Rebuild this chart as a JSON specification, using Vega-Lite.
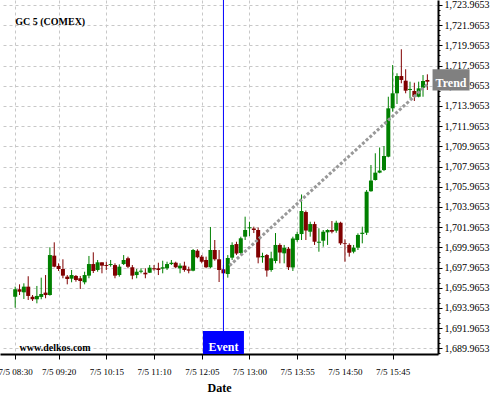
{
  "$schema": "https://vega.github.io/schema/vega-lite/v6.json",
  "width": 438,
  "height": 354,
  "autosize": {"type": "none"},
  "padding": {"left": 0, "top": 0, "right": 62, "bottom": 46},
  "background": "white",
  "config": {
    "view": {"stroke": null},
    "font": "Liberation Serif",
    "text": {"font": "Liberation Serif"},
    "axis": {"labelFont": "Liberation Serif", "titleFont": "Liberation Serif", "labelColor": "#000000", "tickColor": "#000000", "domainColor": "#000000", "domainWidth": 2, "gridColor": "#c8c8c8", "gridDash": [3, 3], "gridWidth": 1, "titleColor": "#000000", "labelOverlap": false, "labelFlush": false, "labelBound": false},
    "axisX": {"labelFontSize": 9, "tickSize": 5, "labelPadding": 8, "titleFontSize": 12, "titleFontWeight": "bold", "titlePadding": 6},
    "axisY": {"labelFontSize": 10, "tickSize": 4, "labelPadding": 2}
  },
  "resolve": {"axis": {"y": "independent"}},
  "datasets": {
    "candles": [
      {"t": "2024-07-05T08:30:00", "o": 1695.08, "h": 1696.07, "l": 1693.99, "c": 1695.81},
      {"t": "2024-07-05T08:35:00", "o": 1695.81, "h": 1696.30, "l": 1695.24, "c": 1695.57},
      {"t": "2024-07-05T08:40:00", "o": 1695.51, "h": 1696.40, "l": 1694.85, "c": 1696.07},
      {"t": "2024-07-05T08:45:00", "o": 1696.07, "h": 1697.10, "l": 1694.75, "c": 1695.15},
      {"t": "2024-07-05T08:50:00", "o": 1695.08, "h": 1695.24, "l": 1694.65, "c": 1694.82},
      {"t": "2024-07-05T08:55:00", "o": 1694.82, "h": 1696.14, "l": 1694.42, "c": 1695.15},
      {"t": "2024-07-05T09:00:00", "o": 1695.05, "h": 1696.96, "l": 1694.82, "c": 1695.34},
      {"t": "2024-07-05T09:05:00", "o": 1695.48, "h": 1697.22, "l": 1694.92, "c": 1695.24},
      {"t": "2024-07-05T09:10:00", "o": 1695.24, "h": 1699.97, "l": 1695.18, "c": 1699.20},
      {"t": "2024-07-05T09:15:00", "o": 1699.14, "h": 1700.46, "l": 1697.99, "c": 1698.05},
      {"t": "2024-07-05T09:20:00", "o": 1698.12, "h": 1698.38, "l": 1697.62, "c": 1697.82},
      {"t": "2024-07-05T09:25:00", "o": 1697.82, "h": 1698.78, "l": 1696.90, "c": 1697.16},
      {"t": "2024-07-05T09:30:00", "o": 1697.06, "h": 1697.22, "l": 1696.30, "c": 1696.83},
      {"t": "2024-07-05T09:35:00", "o": 1696.86, "h": 1697.72, "l": 1696.50, "c": 1697.22},
      {"t": "2024-07-05T09:40:00", "o": 1697.13, "h": 1697.22, "l": 1696.56, "c": 1696.73},
      {"t": "2024-07-05T09:45:00", "o": 1696.90, "h": 1697.13, "l": 1695.84, "c": 1696.63},
      {"t": "2024-07-05T09:50:00", "o": 1696.50, "h": 1697.55, "l": 1696.30, "c": 1697.22},
      {"t": "2024-07-05T09:55:00", "o": 1697.16, "h": 1699.11, "l": 1696.90, "c": 1698.31},
      {"t": "2024-07-05T10:00:00", "o": 1698.31, "h": 1699.47, "l": 1697.42, "c": 1697.62},
      {"t": "2024-07-05T10:05:00", "o": 1697.72, "h": 1698.71, "l": 1697.55, "c": 1698.48},
      {"t": "2024-07-05T10:10:00", "o": 1698.48, "h": 1698.48, "l": 1697.39, "c": 1698.15},
      {"t": "2024-07-05T10:15:00", "o": 1698.21, "h": 1698.54, "l": 1697.72, "c": 1698.12},
      {"t": "2024-07-05T10:20:00", "o": 1698.21, "h": 1698.71, "l": 1698.05, "c": 1698.31},
      {"t": "2024-07-05T10:25:00", "o": 1698.21, "h": 1698.38, "l": 1696.90, "c": 1697.16},
      {"t": "2024-07-05T10:30:00", "o": 1697.22, "h": 1698.28, "l": 1697.06, "c": 1698.05},
      {"t": "2024-07-05T10:35:00", "o": 1698.31, "h": 1699.20, "l": 1698.21, "c": 1698.71},
      {"t": "2024-07-05T10:40:00", "o": 1698.88, "h": 1699.04, "l": 1697.89, "c": 1698.05},
      {"t": "2024-07-05T10:45:00", "o": 1697.99, "h": 1698.21, "l": 1696.80, "c": 1697.16},
      {"t": "2024-07-05T10:50:00", "o": 1697.22, "h": 1697.82, "l": 1696.90, "c": 1697.55},
      {"t": "2024-07-05T10:55:00", "o": 1697.55, "h": 1697.89, "l": 1697.39, "c": 1697.65},
      {"t": "2024-07-05T11:00:00", "o": 1697.45, "h": 1697.89, "l": 1696.90, "c": 1697.29},
      {"t": "2024-07-05T11:05:00", "o": 1697.45, "h": 1698.21, "l": 1697.42, "c": 1697.95},
      {"t": "2024-07-05T11:10:00", "o": 1697.89, "h": 1698.21, "l": 1697.65, "c": 1697.79},
      {"t": "2024-07-05T11:15:00", "o": 1697.89, "h": 1698.44, "l": 1697.22, "c": 1697.72},
      {"t": "2024-07-05T11:20:00", "o": 1697.85, "h": 1698.64, "l": 1697.39, "c": 1697.99},
      {"t": "2024-07-05T11:25:00", "o": 1697.89, "h": 1698.54, "l": 1697.72, "c": 1698.31},
      {"t": "2024-07-05T11:30:00", "o": 1698.31, "h": 1698.71, "l": 1698.21, "c": 1698.44},
      {"t": "2024-07-05T11:35:00", "o": 1698.44, "h": 1698.54, "l": 1697.89, "c": 1697.99},
      {"t": "2024-07-05T11:40:00", "o": 1697.89, "h": 1698.38, "l": 1697.39, "c": 1698.15},
      {"t": "2024-07-05T11:45:00", "o": 1698.15, "h": 1698.54, "l": 1697.55, "c": 1697.72},
      {"t": "2024-07-05T11:50:00", "o": 1697.79, "h": 1698.05, "l": 1697.39, "c": 1697.65},
      {"t": "2024-07-05T11:55:00", "o": 1697.65, "h": 1699.80, "l": 1697.59, "c": 1699.70},
      {"t": "2024-07-05T12:00:00", "o": 1699.63, "h": 1699.77, "l": 1698.88, "c": 1698.98},
      {"t": "2024-07-05T12:05:00", "o": 1699.04, "h": 1699.20, "l": 1698.38, "c": 1698.54},
      {"t": "2024-07-05T12:10:00", "o": 1698.71, "h": 1699.04, "l": 1697.89, "c": 1697.99},
      {"t": "2024-07-05T12:15:00", "o": 1697.99, "h": 1701.98, "l": 1697.89, "c": 1699.70},
      {"t": "2024-07-05T12:20:00", "o": 1699.70, "h": 1700.69, "l": 1698.64, "c": 1698.78},
      {"t": "2024-07-05T12:25:00", "o": 1698.78, "h": 1699.70, "l": 1696.53, "c": 1697.72},
      {"t": "2024-07-05T12:30:00", "o": 1697.79, "h": 1698.21, "l": 1696.80, "c": 1697.39},
      {"t": "2024-07-05T12:35:00", "o": 1697.32, "h": 1699.20, "l": 1696.96, "c": 1698.91},
      {"t": "2024-07-05T12:40:00", "o": 1698.94, "h": 1700.46, "l": 1698.71, "c": 1700.20},
      {"t": "2024-07-05T12:45:00", "o": 1700.29, "h": 1700.52, "l": 1699.20, "c": 1699.35},
      {"t": "2024-07-05T12:50:00", "o": 1699.40, "h": 1701.02, "l": 1699.20, "c": 1700.86},
      {"t": "2024-07-05T12:55:00", "o": 1701.02, "h": 1703.00, "l": 1700.69, "c": 1701.68},
      {"t": "2024-07-05T13:00:00", "o": 1701.85, "h": 1702.50, "l": 1701.08, "c": 1701.95},
      {"t": "2024-07-05T13:05:00", "o": 1701.83, "h": 1702.01, "l": 1701.38, "c": 1701.68},
      {"t": "2024-07-05T13:10:00", "o": 1701.68, "h": 1701.93, "l": 1698.38, "c": 1698.96},
      {"t": "2024-07-05T13:15:00", "o": 1698.98, "h": 1699.43, "l": 1698.44, "c": 1699.11},
      {"t": "2024-07-05T13:20:00", "o": 1699.20, "h": 1699.30, "l": 1697.06, "c": 1697.67},
      {"t": "2024-07-05T13:25:00", "o": 1697.72, "h": 1699.53, "l": 1697.55, "c": 1698.88},
      {"t": "2024-07-05T13:30:00", "o": 1698.61, "h": 1701.38, "l": 1698.38, "c": 1700.20},
      {"t": "2024-07-05T13:35:00", "o": 1700.20, "h": 1700.36, "l": 1698.38, "c": 1699.45},
      {"t": "2024-07-05T13:40:00", "o": 1699.37, "h": 1700.20, "l": 1698.38, "c": 1699.93},
      {"t": "2024-07-05T13:45:00", "o": 1699.83, "h": 1700.00, "l": 1697.72, "c": 1697.99},
      {"t": "2024-07-05T13:50:00", "o": 1697.97, "h": 1701.02, "l": 1697.62, "c": 1700.84},
      {"t": "2024-07-05T13:55:00", "o": 1700.69, "h": 1701.51, "l": 1700.52, "c": 1701.28},
      {"t": "2024-07-05T14:00:00", "o": 1701.28, "h": 1705.20, "l": 1700.69, "c": 1703.56},
      {"t": "2024-07-05T14:05:00", "o": 1703.46, "h": 1703.61, "l": 1700.69, "c": 1701.63},
      {"t": "2024-07-05T14:10:00", "o": 1701.51, "h": 1702.50, "l": 1701.02, "c": 1702.27},
      {"t": "2024-07-05T14:15:00", "o": 1702.27, "h": 1702.50, "l": 1700.20, "c": 1700.52},
      {"t": "2024-07-05T14:20:00", "o": 1700.42, "h": 1701.85, "l": 1699.53, "c": 1700.52},
      {"t": "2024-07-05T14:25:00", "o": 1700.62, "h": 1701.68, "l": 1700.03, "c": 1701.51},
      {"t": "2024-07-05T14:30:00", "o": 1701.45, "h": 1701.75, "l": 1700.20, "c": 1701.68},
      {"t": "2024-07-05T14:35:00", "o": 1701.68, "h": 1702.57, "l": 1701.35, "c": 1701.51},
      {"t": "2024-07-05T14:40:00", "o": 1701.61, "h": 1702.60, "l": 1701.41, "c": 1702.40},
      {"t": "2024-07-05T14:45:00", "o": 1702.40, "h": 1702.50, "l": 1700.20, "c": 1700.36},
      {"t": "2024-07-05T14:50:00", "o": 1700.36, "h": 1700.76, "l": 1698.54, "c": 1700.29},
      {"t": "2024-07-05T14:55:00", "o": 1700.20, "h": 1700.36, "l": 1699.04, "c": 1699.43},
      {"t": "2024-07-05T15:00:00", "o": 1699.53, "h": 1700.20, "l": 1699.37, "c": 1699.93},
      {"t": "2024-07-05T15:05:00", "o": 1699.93, "h": 1701.35, "l": 1699.70, "c": 1701.19},
      {"t": "2024-07-05T15:10:00", "o": 1701.29, "h": 1702.01, "l": 1700.36, "c": 1701.41},
      {"t": "2024-07-05T15:15:00", "o": 1701.41, "h": 1705.64, "l": 1701.19, "c": 1705.47},
      {"t": "2024-07-05T15:20:00", "o": 1705.52, "h": 1708.12, "l": 1705.47, "c": 1706.58},
      {"t": "2024-07-05T15:25:00", "o": 1706.63, "h": 1709.28, "l": 1706.58, "c": 1707.36},
      {"t": "2024-07-05T15:30:00", "o": 1707.36, "h": 1709.85, "l": 1707.30, "c": 1707.57},
      {"t": "2024-07-05T15:35:00", "o": 1707.62, "h": 1710.00, "l": 1707.52, "c": 1709.01},
      {"t": "2024-07-05T15:40:00", "o": 1708.94, "h": 1714.88, "l": 1708.88, "c": 1713.73},
      {"t": "2024-07-05T15:45:00", "o": 1713.73, "h": 1718.02, "l": 1713.40, "c": 1715.22},
      {"t": "2024-07-05T15:50:00", "o": 1715.22, "h": 1717.20, "l": 1714.16, "c": 1716.93},
      {"t": "2024-07-05T15:55:00", "o": 1716.93, "h": 1719.58, "l": 1716.21, "c": 1716.54},
      {"t": "2024-07-05T16:00:00", "o": 1716.47, "h": 1717.60, "l": 1715.22, "c": 1715.48},
      {"t": "2024-07-05T16:05:00", "o": 1715.55, "h": 1716.37, "l": 1714.72, "c": 1715.65},
      {"t": "2024-07-05T16:10:00", "o": 1715.45, "h": 1716.27, "l": 1714.46, "c": 1714.88},
      {"t": "2024-07-05T16:15:00", "o": 1714.88, "h": 1716.37, "l": 1714.82, "c": 1715.71},
      {"t": "2024-07-05T16:20:00", "o": 1715.77, "h": 1717.03, "l": 1714.88, "c": 1716.44},
      {"t": "2024-07-05T16:25:00", "o": 1716.54, "h": 1717.10, "l": 1715.55, "c": 1716.37}
    ],
    "trend": [
      {"t": "2024-07-05T12:37:00", "p": 1698.15},
      {"t": "2024-07-05T16:25:00", "p": 1716.10}
    ],
    "event": [
      {"t": "2024-07-05T12:30:00", "p": 1689.40, "p2": 1691.68, "pt": 1689.65, "label": "Event"}
    ],
    "trendlabel": [
      {"t": "2024-07-05T16:52:18", "p": 1715.50, "p2": 1717.60, "pt": 1715.84, "label": "Trend"}
    ],
    "heading": [
      {"t": "2024-07-05T08:30:00", "p": 1721.9653, "label": "GC 5 (COMEX)"}
    ],
    "site": [
      {"t": "2024-07-05T08:35:00", "p": 1689.70, "label": "www.delkos.com"}
    ]
  },
  "encoding": {
    "x": {"field": "t", "type": "temporal", "title": "Date",
      "scale": {"domain": [{"year": 2024, "month": 7, "date": 5, "hours": 8, "minutes": 18, "seconds": 15}, {"year": 2024, "month": 7, "date": 5, "hours": 16, "minutes": 31, "seconds": 30}]},
      "axis": {"format": "%-m/%-d %H:%M", "labelFlush": false, "labelOverlap": false, "labelBound": false, "tickCount": 20, "values": [
        {"year": 2024, "month": 7, "date": 5, "hours": 8, "minutes": 30},
        {"year": 2024, "month": 7, "date": 5, "hours": 9, "minutes": 20},
        {"year": 2024, "month": 7, "date": 5, "hours": 10, "minutes": 15},
        {"year": 2024, "month": 7, "date": 5, "hours": 11, "minutes": 10},
        {"year": 2024, "month": 7, "date": 5, "hours": 12, "minutes": 5},
        {"year": 2024, "month": 7, "date": 5, "hours": 13, "minutes": 0},
        {"year": 2024, "month": 7, "date": 5, "hours": 13, "minutes": 55},
        {"year": 2024, "month": 7, "date": 5, "hours": 14, "minutes": 50},
        {"year": 2024, "month": 7, "date": 5, "hours": 15, "minutes": 45}
      ]}}
  },
  "layer": [
    {
      "data": {"name": "candles"},
      "mark": {"type": "rule", "strokeWidth": 1},
      "encoding": {
        "y": {"field": "l", "type": "quantitative", "title": null,
          "scale": {"domain": [1689.40, 1724.46], "zero": false, "nice": false},
          "axis": {"orient": "right", "format": ",.4f", "tickCount": 40, "labelOverlap": false, "labelFlush": false, "labelBound": false, "values": [1689.9653, 1691.9653, 1693.9653, 1695.9653, 1697.9653, 1699.9653, 1701.9653, 1703.9653, 1705.9653, 1707.9653, 1709.9653, 1711.9653, 1713.9653, 1715.9653, 1717.9653, 1719.9653, 1721.9653, 1723.9653]}},
        "y2": {"field": "h"},
        "color": {"condition": {"test": "datum.c >= datum.o", "value": "#008000"}, "value": "#800000"}
      }
    },
    {
      "data": {"name": "candles"},
      "mark": {"type": "bar", "width": 4},
      "encoding": {
        "y": {"field": "o", "type": "quantitative", "title": null, "axis": null},
        "y2": {"field": "c"},
        "color": {"condition": {"test": "datum.c >= datum.o", "value": "#008000"}, "value": "#800000"}
      }
    },
    {
      "data": {"name": "trend"},
      "mark": {"type": "line", "color": "#999999", "strokeWidth": 3, "strokeDash": [3, 2]},
      "encoding": {
        "y": {"field": "p", "type": "quantitative", "title": null, "axis": null}
      }
    },
    {
      "data": {"name": "event"},
      "mark": {"type": "rule", "color": "#0000ff", "strokeWidth": 1},
      "encoding": {}
    },
    {
      "data": {"name": "event"},
      "mark": {"type": "bar", "width": 41, "color": "#0000ff"},
      "encoding": {
        "y": {"field": "p", "type": "quantitative", "title": null, "axis": null},
        "y2": {"field": "p2"}
      }
    },
    {
      "data": {"name": "event"},
      "mark": {"type": "text", "color": "white", "fontWeight": "bold", "fontSize": 12, "align": "center", "baseline": "alphabetic"},
      "encoding": {
        "y": {"field": "pt", "type": "quantitative", "title": null, "axis": null},
        "text": {"field": "label"}
      }
    },
    {
      "data": {"name": "trendlabel"},
      "mark": {"type": "bar", "width": 37, "color": "#808080"},
      "encoding": {
        "y": {"field": "p", "type": "quantitative", "title": null, "axis": null},
        "y2": {"field": "p2"}
      }
    },
    {
      "data": {"name": "trendlabel"},
      "mark": {"type": "text", "color": "white", "fontWeight": "bold", "fontSize": 12, "align": "center", "baseline": "alphabetic"},
      "encoding": {
        "y": {"field": "pt", "type": "quantitative", "title": null, "axis": null},
        "text": {"field": "label"}
      }
    },
    {
      "data": {"name": "heading"},
      "mark": {"type": "text", "color": "black", "fontWeight": "bold", "fontSize": 10, "align": "left", "baseline": "alphabetic"},
      "encoding": {
        "y": {"field": "p", "type": "quantitative", "title": null,
          "axis": {"orient": "right", "labels": false, "grid": false, "domain": false, "tickSize": 2, "tickCount": 200, "values": [1689.4653, 1689.9653, 1690.4653, 1690.9653, 1691.4653, 1691.9653, 1692.4653, 1692.9653, 1693.4653, 1693.9653, 1694.4653, 1694.9653, 1695.4653, 1695.9653, 1696.4653, 1696.9653, 1697.4653, 1697.9653, 1698.4653, 1698.9653, 1699.4653, 1699.9653, 1700.4653, 1700.9653, 1701.4653, 1701.9653, 1702.4653, 1702.9653, 1703.4653, 1703.9653, 1704.4653, 1704.9653, 1705.4653, 1705.9653, 1706.4653, 1706.9653, 1707.4653, 1707.9653, 1708.4653, 1708.9653, 1709.4653, 1709.9653, 1710.4653, 1710.9653, 1711.4653, 1711.9653, 1712.4653, 1712.9653, 1713.4653, 1713.9653, 1714.4653, 1714.9653, 1715.4653, 1715.9653, 1716.4653, 1716.9653, 1717.4653, 1717.9653, 1718.4653, 1718.9653, 1719.4653, 1719.9653, 1720.4653, 1720.9653, 1721.4653, 1721.9653, 1722.4653, 1722.9653, 1723.4653, 1723.9653]}},
        "text": {"field": "label"}
      }
    },
    {
      "data": {"name": "site"},
      "mark": {"type": "text", "color": "black", "fontWeight": "bold", "fontSize": 10, "align": "left", "baseline": "alphabetic"},
      "encoding": {
        "y": {"field": "p", "type": "quantitative", "title": null, "axis": null},
        "text": {"field": "label"}
      }
    }
  ]
}
